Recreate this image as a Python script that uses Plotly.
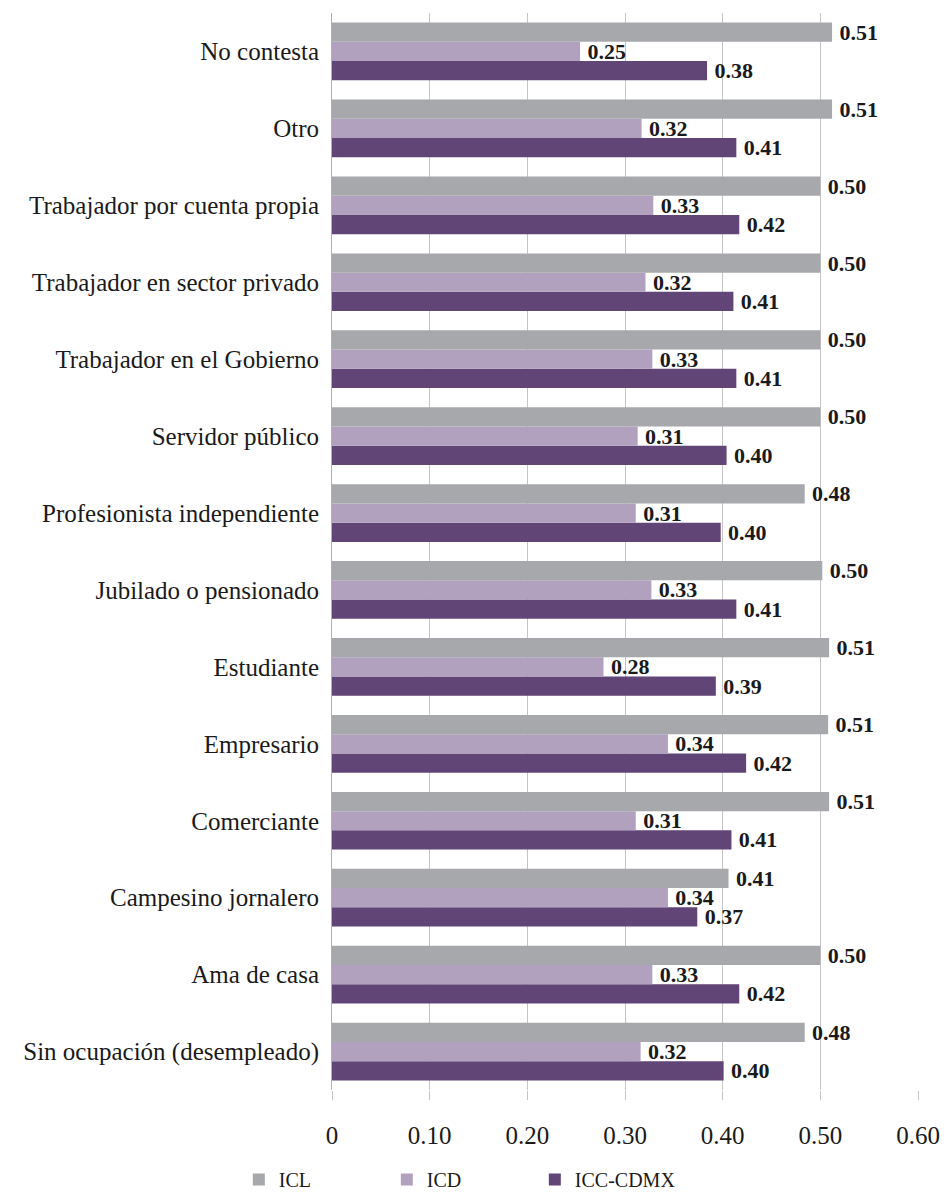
import plotly.graph_objects as go

categories = [
    "Sin ocupación (desempleado)",
    "Ama de casa",
    "Campesino jornalero",
    "Comerciante",
    "Empresario",
    "Estudiante",
    "Jubilado o pensionado",
    "Profesionista independiente",
    "Servidor público",
    "Trabajador en el Gobierno",
    "Trabajador en sector privado",
    "Trabajador por cuenta propia",
    "Otro",
    "No contesta",
]

icl = [0.484, 0.500, 0.406, 0.509, 0.508, 0.509, 0.502, 0.484, 0.500, 0.500, 0.500, 0.500, 0.512, 0.512]
icd = [0.316, 0.328, 0.344, 0.311, 0.344, 0.278, 0.327, 0.311, 0.313, 0.328, 0.321, 0.329, 0.317, 0.254]
icc = [0.401, 0.417, 0.374, 0.409, 0.424, 0.393, 0.414, 0.398, 0.404, 0.414, 0.411, 0.417, 0.414, 0.384]

tick_vals = [0, 0.1, 0.2, 0.3, 0.4, 0.5, 0.6]
tick_text = ["0", "0.10", "0.20", "0.30", "0.40", "0.50", "0.60"]

series = [
    ("ICC-CDMX", icc, "#624577"),
    ("ICD", icd, "#b1a1be"),
    ("ICL", icl, "#a7a8ac"),
]

FONT = "Liberation Serif"

fig = go.Figure()
for name, vals, color in series:
    fig.add_trace(go.Bar(
        y=categories, x=vals, name=name, orientation="h",
        marker=dict(color=color, line=dict(width=0)),
        texttemplate="\u2009%{x:.2f}", textposition="outside",
        textfont=dict(family=FONT, size=22, color="#1a1a1a", weight="bold"),
        constraintext="none", cliponaxis=False,
    ))

fig.update_layout(
    width=951, height=1196,
    margin=dict(l=324, r=41, t=5, b=108),
    paper_bgcolor="white", plot_bgcolor="white",
    barmode="group", bargap=0.25, bargroupgap=0,
    font=dict(family=FONT, size=25, color="#1a1a1a"),
    legend=dict(
        orientation="h", traceorder="reversed",
        x=-0.159, xanchor="left", y=-0.083, yanchor="middle",
        font=dict(family=FONT, size=20, color="#1a1a1a"),
        entrywidth=103, entrywidthmode="pixels",
    ),
    showlegend=True,
)
fig.update_xaxes(
    range=[0, 0.6], tickvals=tick_vals, ticktext=tick_text,
    showgrid=True, gridcolor="#c4c4c4", gridwidth=1,
    zeroline=False, showline=False,
    ticks="outside", ticklen=9, tickcolor="#c4c4c4", tickwidth=1,
    ticklabelstandoff=14,
    tickfont=dict(family=FONT, size=25, color="#1a1a1a"),
)
fig.update_yaxes(
    type="category", categoryorder="array", categoryarray=categories,
    showline=True, linecolor="#b0b0b0", linewidth=1,
    showgrid=False, ticks="", ticklabelstandoff=7,
    tickfont=dict(family=FONT, size=25, color="#1a1a1a"),
)

fig.write_html("out.html")
